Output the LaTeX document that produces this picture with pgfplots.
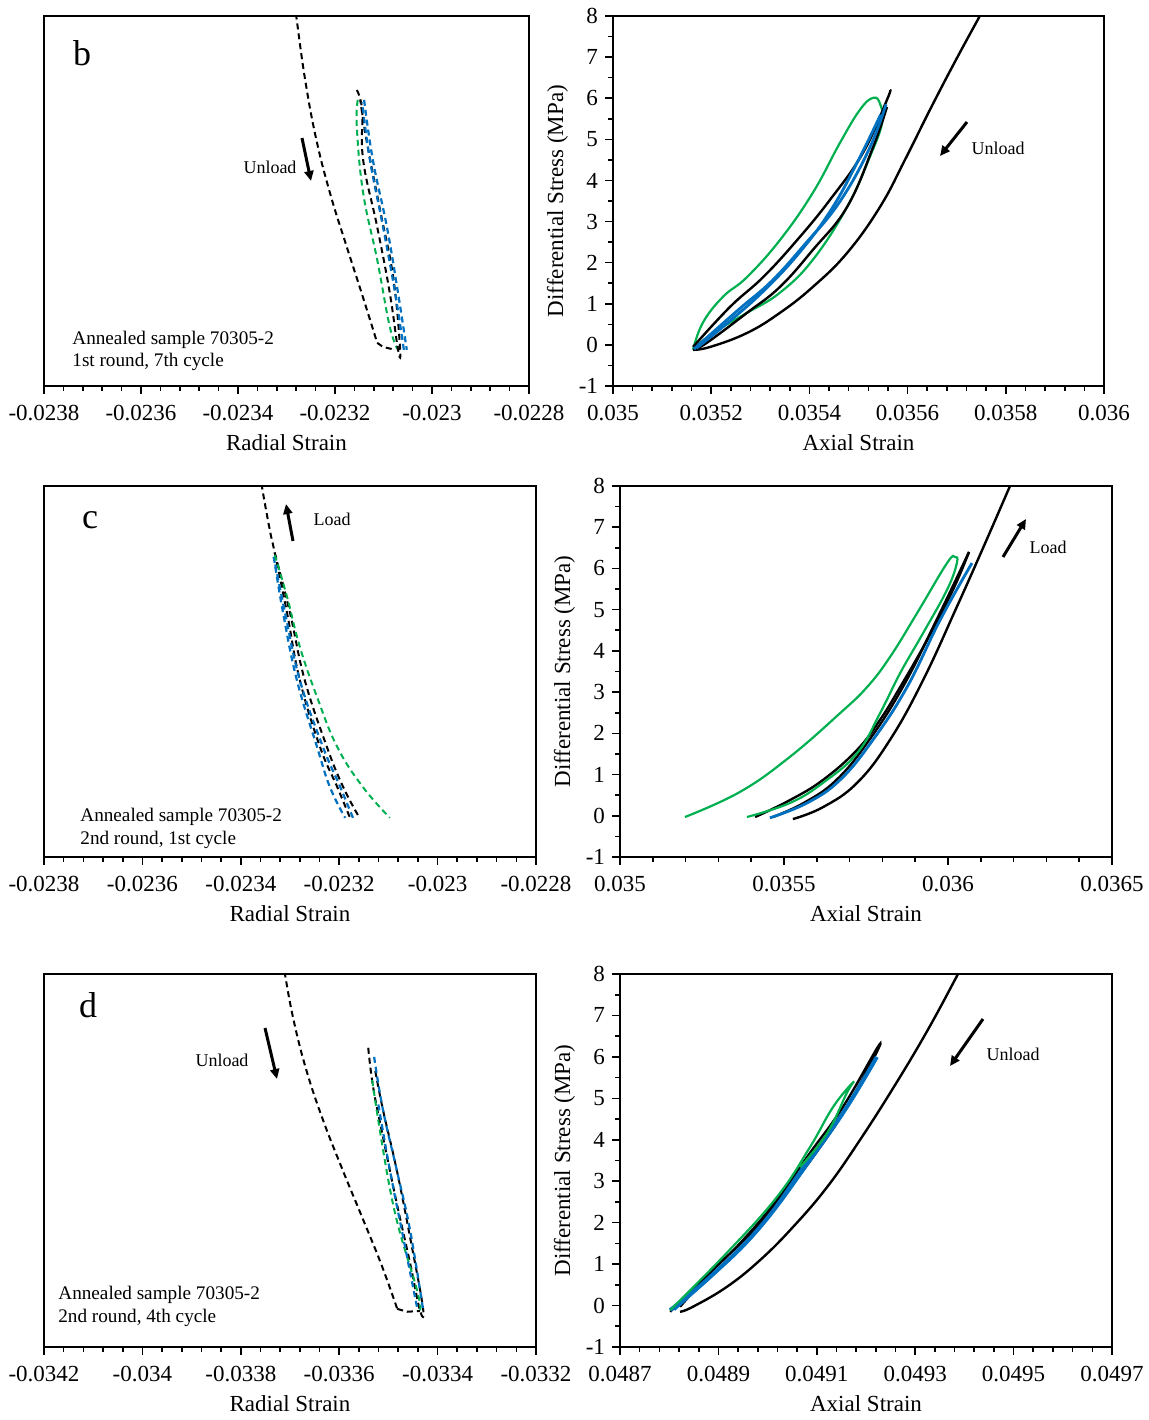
\documentclass[border=0pt]{standalone}
\usepackage{fontspec}
\setmainfont{Liberation Serif}
\usepackage{pgfplots}
\pgfplotsset{compat=1.18}
\usetikzlibrary{arrows.meta}

\definecolor{xblue}{RGB}{0,112,192}
\definecolor{xgreen}{RGB}{0,176,80}

\pgfplotsset{
  panel/.style={
    scale only axis,
    axis line style={line width=0.9pt},
    tick style={line width=0.8pt, black},
    tick align=outside,
    major tick length=4pt,
    minor tick length=2.5pt,
    xtick pos=left, ytick pos=left,
    ymin=-1, ymax=8,
    minor x tick num=4,
    tick label style={font=\fontsize{11.5}{13}\selectfont},
    label style={font=\fontsize{11.5}{13}\selectfont},
    xticklabel style={yshift=-2pt},
    xlabel style={yshift=0pt},
    /pgf/number format/assume math mode=true,
    scaled x ticks=false,
  },
  leftp/.style={panel, ytick=\empty, xlabel={Radial Strain}},
  rightp/.style={panel, ytick={-1,0,...,8}, minor y tick num=1,
    xlabel={Axial Strain}, ylabel={Differential Stress (MPa)},
    ylabel style={yshift=-1.5pt}},
  bd/.style={black, line width=1pt, dash pattern=on 3pt off 2pt, smooth, tension=0.7},
  gd/.style={xgreen, line width=1pt, dash pattern=on 3pt off 2pt, smooth, tension=0.7},
  ud/.style={xblue, line width=1.1pt, dash pattern=on 3pt off 2pt, smooth, tension=0.7},
  bs/.style={black, line width=1.2pt, smooth, tension=0.7},
  gs/.style={xgreen, line width=1.1pt, smooth, tension=0.7},
  us/.style={xblue, line width=1.4pt, smooth, tension=0.7},
}

\begin{document}
\begin{tikzpicture}
\useasboundingbox (0,0) rectangle (574pt,710pt);

% ---------- row 1 (b) ----------
\begin{axis}[leftp, at={(22pt,517pt)}, anchor=south west, width=242.5pt, height=185pt,
  xmin=-0.0238, xmax=-0.0228,
  xtick={-0.0238,-0.0236,-0.0234,-0.0232,-0.023,-0.0228},
  xticklabels={-0.0238,-0.0236,-0.0234,-0.0232,-0.023,-0.0228}]
\addplot[bd] coordinates {(-0.023284,8.3) (-0.023280,8.0) (-0.023262,6.48) (-0.023239,5.02) (-0.023210,3.68) (-0.023177,2.43) (-0.023144,1.22) (-0.023113,0.05)};
\addplot[bd, sharp plot] coordinates {(-0.023113,0.05) (-0.023101,-0.05) (-0.023076,-0.12)};
\addplot[gd] coordinates {(-0.023153,5.96) (-0.023155,5.30) (-0.023142,3.70) (-0.023113,2.07) (-0.023087,0.44) (-0.023070,-0.12)};
\addplot[bd] coordinates {(-0.023155,6.20) (-0.023144,5.71) (-0.023142,4.50) (-0.023113,2.87) (-0.023087,1.26) (-0.023070,-0.12) (-0.023066,-0.05) (-0.023080,1.65) (-0.023107,3.28) (-0.023134,4.91) (-0.023148,5.96)};
\addplot[ud] coordinates {(-0.023140,5.96) (-0.023122,4.50) (-0.023093,2.87) (-0.023070,1.26) (-0.023052,-0.12)};
\addplot[ud] coordinates {(-0.023058,-0.12) (-0.023076,1.26) (-0.023101,2.87) (-0.023128,4.50) (-0.023144,5.90)};
\end{axis}

\begin{axis}[rightp, at={(306.5pt,517pt)}, anchor=south west, width=245.5pt, height=185pt,
  xmin=0.035, xmax=0.036,
  xtick={0.035,0.0352,0.0354,0.0356,0.0358,0.036},
  xticklabels={0.035,0.0352,0.0354,0.0356,0.0358,0.036}]
\addplot[bs] coordinates {(0.035163,-0.12) (0.035198,-0.05) (0.035273,0.29) (0.035340,0.78) (0.035407,1.41) (0.035477,2.24) (0.035544,3.36) (0.035595,4.51) (0.035646,5.73) (0.035697,6.90) (0.035747,8.0) (0.035760,8.3)};
\addplot[gs] coordinates {(0.035163,-0.12) (0.035183,0.54) (0.035224,1.17) (0.035273,1.65) (0.035340,2.55) (0.035407,3.70) (0.035462,4.91) (0.035503,5.72) (0.035530,6.01) (0.035544,5.86) (0.035548,5.40) (0.035523,4.57) (0.035477,3.36) (0.035407,2.07) (0.035340,1.27) (0.035273,0.78) (0.035224,0.44) (0.035177,0.05) (0.035163,-0.12)};
\addplot[bs] coordinates {(0.035163,-0.05) (0.035238,0.92) (0.035306,1.65) (0.035375,2.55) (0.035442,3.53) (0.035509,4.67) (0.035558,5.96) (0.035564,6.20)};
\addplot[bs] coordinates {(0.035558,5.79) (0.035530,4.82) (0.035477,3.36) (0.035407,2.31) (0.035340,1.41) (0.035273,0.78) (0.035191,0.05) (0.035163,-0.12)};
\addplot[us] coordinates {(0.035165,-0.1) (0.035255,0.85) (0.035323,1.55) (0.035391,2.45) (0.035460,3.45) (0.035520,4.72) (0.035556,5.85)};
\addplot[us] coordinates {(0.035545,5.6) (0.035500,4.5) (0.035445,3.3) (0.035380,2.25) (0.035310,1.35) (0.035240,0.6) (0.035170,-0.08)};
\end{axis}

% ---------- row 2 (c) ----------
\begin{axis}[leftp, at={(22pt,281.5pt)}, anchor=south west, width=246pt, height=185.5pt,
  xmin=-0.0238, xmax=-0.0228,
  xtick={-0.0238,-0.0236,-0.0234,-0.0232,-0.023,-0.0228},
  xticklabels={-0.0238,-0.0236,-0.0234,-0.0232,-0.023,-0.0228}]
\addplot[bd] coordinates {(-0.023360,8.3) (-0.023357,7.98) (-0.023341,6.93) (-0.023331,6.38) (-0.023306,4.92) (-0.023280,3.29) (-0.023239,1.67) (-0.023204,0.70) (-0.023178,-0.05)};
\addplot[bd] coordinates {(-0.023162,0.02) (-0.023192,0.70) (-0.023225,1.67) (-0.023270,3.29) (-0.023300,4.92) (-0.023331,6.38)};
\addplot[ud] coordinates {(-0.023333,6.28) (-0.023314,4.92) (-0.023286,3.29) (-0.023245,1.67) (-0.023219,0.70) (-0.023188,-0.05)};
\addplot[ud] coordinates {(-0.023172,-0.05) (-0.023198,0.70) (-0.023233,1.67) (-0.023280,3.29) (-0.023310,4.92) (-0.023333,6.28)};
\addplot[gd] coordinates {(-0.023331,6.33) (-0.023306,5.31) (-0.023280,4.10) (-0.023245,2.88) (-0.023204,1.67) (-0.023152,0.70) (-0.023097,-0.05)};
\end{axis}

\begin{axis}[rightp, at={(310pt,281.5pt)}, anchor=south west, width=246pt, height=185.5pt,
  xmin=0.035, xmax=0.0365,
  xtick={0.035,0.0355,0.036,0.0365},
  xticklabels={0.035,0.0355,0.036,0.0365}]
\addplot[bs] coordinates {(0.035527,-0.08) (0.035619,0.21) (0.035723,0.80) (0.035823,1.84) (0.035924,3.29) (0.036027,5.07) (0.036107,6.50) (0.036189,8.0) (0.036205,8.3)};
\addplot[bs] coordinates {(0.035412,-0.03) (0.035518,0.38) (0.035619,0.87) (0.035723,1.60) (0.035793,2.33) (0.035854,3.12) (0.035936,4.26) (0.036015,5.48) (0.036064,6.40)};
\addplot[bs] coordinates {(0.036064,6.40) (0.035965,4.75) (0.035862,3.12) (0.035760,1.84) (0.035660,0.87) (0.035560,0.31) (0.035466,-0.03)};
\addplot[us] coordinates {(0.035457,-0.05) (0.035570,0.31) (0.035671,0.87) (0.035771,1.84) (0.035875,3.12) (0.035976,4.75) (0.036073,6.13)};
\addplot[gs] coordinates {(0.035198,-0.03) (0.035366,0.58) (0.035518,1.43) (0.035671,2.49) (0.035753,3.12) (0.035823,3.85) (0.035906,4.92) (0.035997,6.13) (0.036021,6.28) (0.036027,6.13) (0.035997,5.48) (0.035924,4.43) (0.035854,3.46) (0.035793,2.49) (0.035723,1.52) (0.035619,0.80) (0.035518,0.31) (0.035387,-0.03)};
\end{axis}

% ---------- row 3 (d) ----------
\begin{axis}[leftp, at={(22pt,36.5pt)}, anchor=south west, width=246pt, height=186.5pt,
  xmin=-0.0342, xmax=-0.0332,
  xtick={-0.0342,-0.034,-0.0338,-0.0336,-0.0334,-0.0332},
  xticklabels={-0.0342,-0.034,-0.0338,-0.0336,-0.0334,-0.0332}]
\addplot[bd] coordinates {(-0.033713,8.3) (-0.033710,7.98) (-0.033692,6.85) (-0.033666,5.65) (-0.033633,4.48) (-0.033594,3.30) (-0.033553,2.12) (-0.033514,0.98) (-0.033482,-0.08)};
\addplot[bd, sharp plot] coordinates {(-0.033482,-0.08) (-0.033462,-0.15) (-0.033436,-0.13)};
\addplot[bd] coordinates {(-0.033541,6.22) (-0.033531,5.27) (-0.033511,4.07) (-0.033483,2.47) (-0.033456,1.03) (-0.033436,-0.11) (-0.033430,-0.03) (-0.033456,1.65) (-0.033483,3.27) (-0.033511,4.72) (-0.033527,5.68)};
\addplot[gd] coordinates {(-0.033533,5.44) (-0.033491,2.47) (-0.033442,0.38) (-0.033436,-0.1)};
\addplot[ud] coordinates {(-0.033529,6.00) (-0.033511,4.72) (-0.033483,3.27) (-0.033456,1.82) (-0.033430,-0.06)};
\addplot[ud] coordinates {(-0.033442,-0.03) (-0.033470,1.65) (-0.033497,3.27) (-0.033521,4.89)};
\end{axis}

\begin{axis}[rightp, at={(310pt,36.5pt)}, anchor=south west, width=246pt, height=186.5pt,
  xmin=0.0487, xmax=0.0497,
  xtick={0.0487,0.0489,0.0491,0.0493,0.0495,0.0497},
  xticklabels={0.0487,0.0489,0.0491,0.0493,0.0495,0.0497}]
\addplot[bs] coordinates {(0.048822,-0.15) (0.048848,-0.03) (0.048917,0.45) (0.048985,1.10) (0.049052,1.90) (0.049121,2.86) (0.049188,4.0) (0.049260,5.34) (0.049326,6.66) (0.049387,8.0) (0.049400,8.3)};
\addplot[bs] coordinates {(0.048802,-0.15) (0.048883,0.79) (0.048950,1.58) (0.049019,2.55) (0.049086,3.68) (0.049153,4.79) (0.049224,6.24) (0.049214,5.93) (0.049161,4.79) (0.049092,3.58) (0.049025,2.55) (0.048958,1.65) (0.048889,0.86) (0.048822,-0.03)};
\addplot[us, line width=2pt] coordinates {(0.048802,-0.11) (0.048883,0.69) (0.048985,1.90) (0.049086,3.51) (0.049161,4.79) (0.049222,6.00)};
\addplot[us] coordinates {(0.049215,5.85) (0.049150,4.6) (0.049070,3.3) (0.048975,1.75) (0.048875,0.6) (0.048810,-0.1)};
\addplot[gs] coordinates {(0.048802,-0.11) (0.048917,1.27) (0.049019,2.62) (0.049086,3.82) (0.049133,4.79) (0.049174,5.39) (0.049161,5.13) (0.049121,4.16) (0.049066,3.34)};
\end{axis}

% ---------- annotations (pixel grid of the reference) ----------
\begin{scope}[x=0.5pt, y=-0.5pt, yshift=710pt, font=\fontsize{9}{11}\selectfont]
\tikzset{arr/.style={line width=1.5pt, -{Triangle[length=5pt,width=4.5pt]}},
  note/.style={anchor=west, inner sep=0pt, font=\fontsize{9.6}{11}\selectfont}}
% b
\node[font=\fontsize{18}{20}\selectfont] at (82,53) {b};
\node at (270,167) {Unload};
\draw[arr] (302,138) -- (311,181);
\node[note] at (72,340) {Annealed sample 70305-2};
\node[note] at (72,362) {1st round, 7th cycle};
\draw[arr] (967,122) -- (940,156);
\node at (998,148) {Unload};
% c
\node[font=\fontsize{18}{20}\selectfont] at (90,520) {c};
\draw[arr] (293,541) -- (286,504);
\node at (332,519) {Load};
\node[note] at (80,817) {Annealed sample 70305-2};
\node[note] at (80,840) {2nd round, 1st cycle};
\draw[arr] (1003,557) -- (1026,519);
\node at (1048,547) {Load};
% d
\node[font=\fontsize{18}{20}\selectfont] at (88,1005) {d};
\node at (222,1060) {Unload};
\draw[arr] (265,1028) -- (277,1079);
\node[note] at (58,1295) {Annealed sample 70305-2};
\node[note] at (58,1318) {2nd round, 4th cycle};
\draw[arr] (983,1019) -- (950,1066);
\node at (1013,1054) {Unload};
\end{scope}
\end{tikzpicture}
\end{document}
